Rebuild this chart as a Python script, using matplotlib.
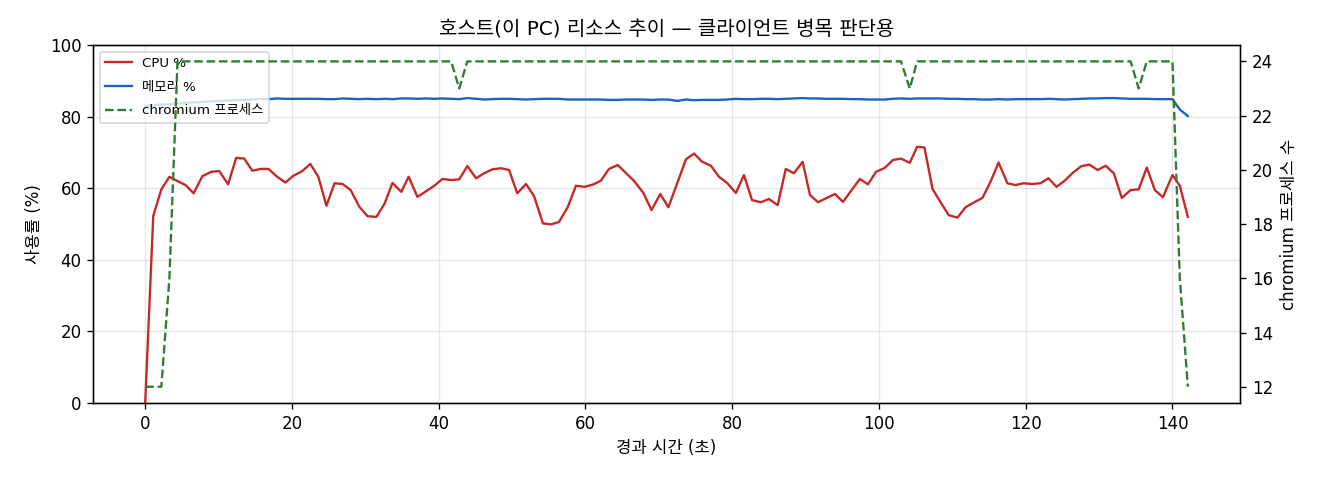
import matplotlib
matplotlib.use("Agg")
import matplotlib.pyplot as plt

plt.rcParams['font.family'] = ['DejaVu Sans', 'Noto Sans CJK KR']
plt.rcParams['axes.unicode_minus'] = False

elapsed = [0.0, 1.1, 2.2, 3.3, 4.4, 5.5, 6.6, 7.8, 9.0, 10.1,
           11.3, 12.4, 13.5, 14.6, 15.7, 16.8, 18.0, 19.1, 20.2, 21.4,
           22.5, 23.6, 24.7, 25.8, 26.9, 28.0, 29.2, 30.3, 31.5, 32.6,
           33.7, 34.9, 35.9, 37.1, 38.3, 39.4, 40.5, 41.7, 42.8, 43.9,
           45.1, 46.2, 47.3, 48.5, 49.6, 50.7, 51.9, 53.0, 54.2, 55.3,
           56.4, 57.6, 58.7, 59.9, 61.1, 62.1, 63.2, 64.4, 65.5, 66.6,
           67.9, 69.0, 70.2, 71.3, 72.5, 73.7, 74.8, 75.9, 77.1, 78.2,
           79.3, 80.5, 81.6, 82.7, 83.9, 85.0, 86.2, 87.3, 88.4, 89.6,
           90.6, 91.7, 92.8, 94.0, 95.1, 96.2, 97.4, 98.5, 99.6, 100.8,
           101.9, 103.0, 104.2, 105.2, 106.2, 107.3, 108.4, 109.5, 110.7, 111.8,
           112.9, 114.1, 115.2, 116.3, 117.5, 118.6, 119.7, 120.9, 122.0, 123.1,
           124.2, 125.3, 126.4, 127.6, 128.7, 129.8, 130.9, 132.0, 133.1, 134.3,
           135.4, 136.5, 137.6, 138.7, 140.0, 141.0, 142.1]

cpu_pct = [0.0, 52.3, 59.7, 63.2, 62.0, 60.9, 58.6, 63.4, 64.6, 64.8,
           61.1, 68.5, 68.3, 64.9, 65.4, 65.4, 63.2, 61.6, 63.5, 64.8,
           66.8, 63.2, 55.1, 61.4, 61.2, 59.5, 54.8, 52.2, 52.0, 55.6,
           61.5, 59.0, 63.2, 57.6, 59.2, 60.7, 62.6, 62.3, 62.5, 66.2,
           62.8, 64.2, 65.3, 65.6, 65.1, 58.6, 61.2, 57.8, 50.2, 49.9,
           50.6, 54.8, 60.7, 60.4, 61.1, 62.1, 65.4, 66.5, 64.3, 62.1,
           58.7, 53.9, 58.4, 54.7, 61.4, 68.1, 69.7, 67.4, 66.3, 63.2,
           61.5, 58.7, 63.7, 56.7, 56.1, 57.0, 55.3, 65.4, 64.2, 67.4,
           58.1, 56.1, 57.2, 58.4, 56.2, 59.3, 62.6, 61.1, 64.6, 65.7,
           67.9, 68.3, 67.1, 71.6, 71.4, 59.8, 56.1, 52.5, 51.8, 54.7,
           56.0, 57.3, 61.8, 67.2, 61.4, 60.9, 61.4, 61.2, 61.4, 62.8,
           60.4, 62.1, 64.3, 66.2, 66.6, 65.1, 66.3, 64.2, 57.3, 59.5,
           59.7, 65.8, 59.5, 57.5, 63.7, 60.7, 52.0]

mem_pct = [83.0, 83.2, 83.4, 83.5, 83.7, 83.9, 84.0, 84.1, 84.3, 84.4,
           84.5, 84.6, 84.7, 84.8, 84.9, 84.9, 85.1, 85.0, 85.0, 85.0,
           85.0, 85.0, 84.9, 84.9, 85.1, 85.0, 84.9, 85.0, 84.9, 85.0,
           84.9, 85.1, 85.1, 85.0, 85.1, 85.0, 85.1, 85.0, 84.9, 85.2,
           85.0, 84.8, 84.9, 85.0, 85.0, 84.9, 84.8, 84.9, 85.0, 85.0,
           85.0, 84.8, 84.8, 84.8, 84.8, 84.8, 84.7, 84.7, 84.8, 84.8,
           84.8, 84.7, 84.8, 84.8, 84.4, 84.8, 84.6, 84.7, 84.7, 84.7,
           84.8, 85.0, 84.9, 84.9, 85.0, 85.0, 84.9, 85.0, 85.1, 85.2,
           85.1, 85.1, 85.0, 85.0, 85.0, 84.9, 84.9, 84.8, 84.8, 84.8,
           85.0, 85.1, 85.0, 85.1, 85.1, 85.1, 85.1, 85.0, 85.0, 84.9,
           84.9, 84.8, 84.8, 84.9, 84.8, 84.9, 84.9, 84.9, 84.9, 85.0,
           84.9, 84.8, 84.9, 85.0, 85.1, 85.1, 85.2, 85.2, 85.1, 85.0,
           85.0, 85.0, 84.9, 84.9, 84.9, 82.0, 80.2]

chromium_procs = [12, 12, 12, 16, 24, 24, 24, 24, 24, 24,
                  24, 24, 24, 24, 24, 24, 24, 24, 24, 24,
                  24, 24, 24, 24, 24, 24, 24, 24, 24, 24,
                  24, 24, 24, 24, 24, 24, 24, 24, 23, 24,
                  24, 24, 24, 24, 24, 24, 24, 24, 24, 24,
                  24, 24, 24, 24, 24, 24, 24, 24, 24, 24,
                  24, 24, 24, 24, 24, 24, 24, 24, 24, 24,
                  24, 24, 24, 24, 24, 24, 24, 24, 24, 24,
                  24, 24, 24, 24, 24, 24, 24, 24, 24, 24,
                  24, 24, 23, 24, 24, 24, 24, 24, 24, 24,
                  24, 24, 24, 24, 24, 24, 24, 24, 24, 24,
                  24, 24, 24, 24, 24, 24, 24, 24, 24, 24,
                  23, 24, 24, 24, 24, 16, 12]

fig, ax = plt.subplots(figsize=(11, 4), dpi=120)
l1, = ax.plot(elapsed, cpu_pct, color='#c62828', lw=1.4, label='CPU %')
l2, = ax.plot(elapsed, mem_pct, color='#1565c0', lw=1.4, label='메모리 %')
ax.set_ylim(0, 100)
ax.set_xlabel('경과 시간 (초)', fontsize=10)
ax.set_ylabel('사용률 (%)', fontsize=10)
ax.grid(True, alpha=0.3)
ax.tick_params(labelsize=10)

ax2 = ax.twinx()
l3, = ax2.plot(elapsed, chromium_procs, color='#2e7d32', lw=1.4, ls='--', label='chromium 프로세스')
ax2.set_ylabel('chromium 프로세스 수', fontsize=10)
ax2.tick_params(labelsize=10)

ax.set_title('호스트(이 PC) 리소스 추이 — 클라이언트 병목 판단용', fontsize=12)
ax.legend(handles=[l1, l2, l3], loc='upper left', fontsize=8, labelspacing=0.8)

fig.subplots_adjust(left=0.0705, right=0.9394, top=0.906, bottom=0.1604)
fig.savefig('out.png', dpi=120)
